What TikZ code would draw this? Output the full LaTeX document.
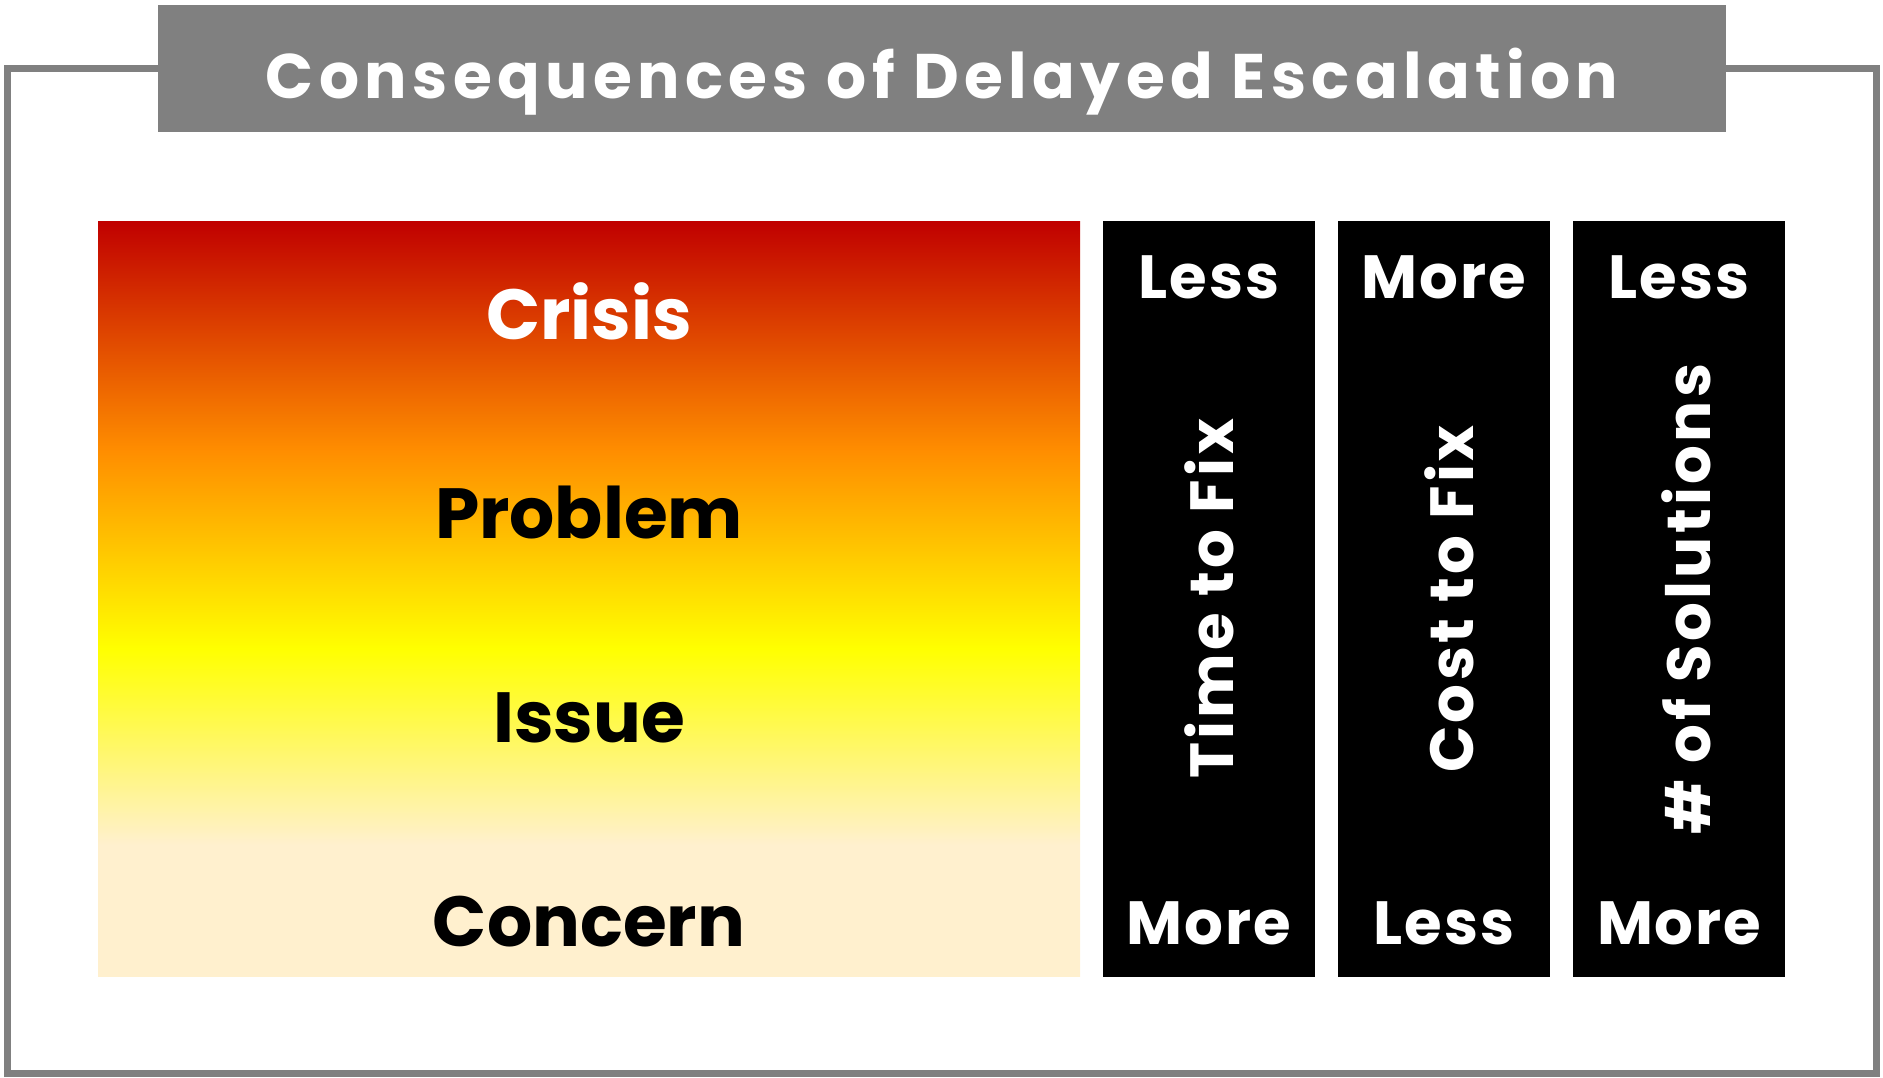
\documentclass[tikz,border=0pt]{standalone}
\usepackage{fontspec}
\setmainfont{Poppins}
\newfontfamily\titlefont[LetterSpace=8.5]{Poppins}
\newfontfamily\vertfont[LetterSpace=5.5]{Poppins}
\newfontfamily\endfont[LetterSpace=3]{Poppins}
\definecolor{frame}{RGB}{128,128,128}
\definecolor{dred}{RGB}{192,0,0}
\definecolor{orng}{RGB}{255,142,0}
\definecolor{yel}{RGB}{255,255,0}
\definecolor{cream}{RGB}{255,240,206}
\pgfdeclareverticalshading{esc}{100bp}{color(0bp)=(cream); color(25bp)=(cream); color(33.7bp)=(cream); color(46.7bp)=(yel); color(59.75bp)=(orng); color(75bp)=(dred); color(100bp)=(dred)}
\tikzset{
  lvl/.style={font=\fontsize{71}{75}\selectfont\bfseries, anchor=base, inner sep=0pt},
  colbox/.style={fill=black, draw=none, minimum width=212pt, minimum height=756pt, inner sep=0pt, anchor=north west},
  endlbl/.style={font=\endfont\fontsize{61}{64}\selectfont\bfseries, text=white, anchor=base, inner sep=0pt},
  vlbl/.style={font=\vertfont\fontsize{61}{64}\selectfont\bfseries, text=white, anchor=base, inner sep=0pt, rotate=90},
}
\begin{document}
\begin{tikzpicture}[x=1pt, y=-1pt]
\useasboundingbox (0,0) rectangle (1883,1077);
\draw[frame, line width=7pt] (7.5,68.5) rectangle (1876.5,1073);
\node[fill=frame, minimum width=1568pt, minimum height=127pt, inner sep=0pt, anchor=north west] (titlebox) at (158,5) {};
\node[font=\titlefont\fontsize{63}{66}\selectfont\bfseries, text=white, anchor=base, inner sep=0pt] (title) at (942,98) {Consequences of Delayed Escalation};
\node[shade, shading=esc, minimum width=982pt, minimum height=755pt, inner sep=0pt, anchor=north west] (grad) at (98,221) {};
\node[lvl, text=white] (crisis) at (589,339) {Crisis};
\node[lvl] (problem) at (589,538) {Problem};
\node[lvl] (issue) at (589,742) {Issue};
\node[lvl] (concern) at (589,946) {Concern};
\node[colbox] (c1) at (1103,221) {};
\node[colbox] (c2) at (1338,221) {};
\node[colbox] (c3) at (1573,221) {};
\node[endlbl] (t1) at (1209,298) {Less};
\node[endlbl] (t2) at (1444,298) {More};
\node[endlbl] (t3) at (1679,298) {Less};
\node[endlbl] (b1) at (1209,944) {More};
\node[endlbl] (b2) at (1444,944) {Less};
\node[endlbl] (b3) at (1679,944) {More};
\node[vlbl] (v1) at (1233,599) {Time to Fix};
\node[vlbl] (v2) at (1473,599) {Cost to Fix};
\node[vlbl] (v3) at (1710,599) {\# of Solutions};
\end{tikzpicture}
\end{document}
